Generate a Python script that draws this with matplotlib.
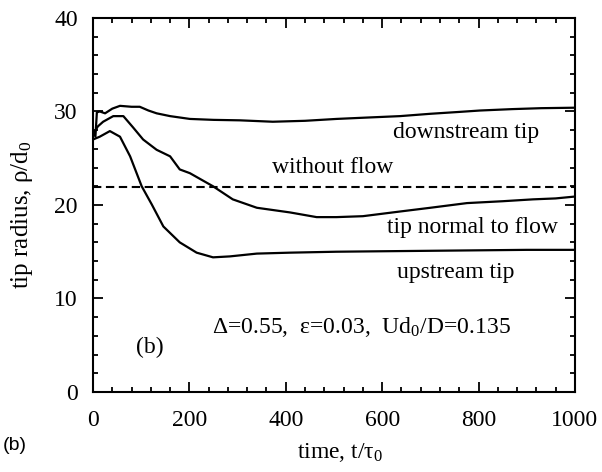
import matplotlib
matplotlib.use("Agg")
import matplotlib.pyplot as plt
from matplotlib.ticker import MultipleLocator

plt.rcParams["font.family"] = ["Liberation Serif", "DejaVu Serif"]
plt.rcParams["mathtext.fontset"] = "custom"
plt.rcParams["mathtext.rm"] = "Liberation Serif"
plt.rcParams["mathtext.it"] = "Liberation Serif:italic"

# downstream tip
t_down = [0, 5, 8, 14, 25, 40, 56, 80, 97, 115, 132, 160, 201, 250, 305, 373,
          440, 505, 570, 637, 700, 760, 803, 870, 930, 1000]
r_down = [28.0, 27.3, 29.9, 30.0, 29.8, 30.3, 30.6, 30.5, 30.5, 30.1, 29.8, 29.5,
          29.2, 29.1, 29.05, 28.9, 29.0, 29.2, 29.35, 29.5, 29.75, 29.95, 30.1,
          30.25, 30.35, 30.4]

# tip normal to flow
t_norm = [0, 10, 21, 42, 63, 83, 104, 132, 160, 180, 201, 249, 290, 340, 409,
          464, 505, 560, 637, 700, 776, 850, 913, 960, 1000]
r_norm = [27.5, 28.4, 28.9, 29.5, 29.5, 28.3, 27.0, 25.9, 25.2, 23.8, 23.4, 22.0,
          20.6, 19.7, 19.2, 18.7, 18.7, 18.8, 19.3, 19.7, 20.2, 20.4, 20.6, 20.7,
          20.9]

# upstream tip
t_up = [0, 14, 35, 56, 77, 101, 122, 146, 180, 215, 249, 284, 340, 409, 505,
        600, 700, 800, 900, 1000]
r_up = [27.0, 27.3, 27.9, 27.3, 25.2, 22.0, 20.05, 17.7, 16.0, 14.9, 14.4, 14.5,
        14.8, 14.9, 15.0, 15.05, 15.1, 15.15, 15.2, 15.2]

# without flow
t_still = [0, 1000]
r_still = [21.9, 21.9]

fig = plt.figure(figsize=(6.02, 4.72), dpi=100)
ax = fig.add_axes([0.1545, 0.1695, 0.8005, 0.7925])

ax.plot(t_down, r_down, color="black", lw=1.6)
ax.plot(t_norm, r_norm, color="black", lw=1.6)
ax.plot(t_up, r_up, color="black", lw=1.6)
ax.plot(t_still, r_still, color="black", lw=1.5, dashes=(4, 2.2))

ax.set_xlim(0, 1000)
ax.set_ylim(0, 40)
ax.xaxis.set_major_locator(MultipleLocator(200))
ax.xaxis.set_minor_locator(MultipleLocator(40))
ax.yaxis.set_major_locator(MultipleLocator(10))
ax.yaxis.set_minor_locator(MultipleLocator(2))
ax.tick_params(which="both", direction="in", top=True, right=True,
               labelsize=17, width=1.3)
ax.tick_params(axis="x", pad=13)
ax.tick_params(axis="y", pad=11)
ax.tick_params(which="major", length=7)
ax.tick_params(which="minor", length=3.6)
for s in ax.spines.values():
    s.set_linewidth(1.5)

ax.set_xlabel(r"time, t/$\mathrm{\tau_0}$", fontsize=17, va="center")
ax.xaxis.set_label_coords(0.512, -0.163)
ax.set_ylabel(r"tip radius, ρ/d$_\mathrm{0}$", fontsize=18, va="center")
ax.yaxis.set_label_coords(-0.147, 0.473)

fs = 17
ax.text(774, 27.7, "downstream tip", ha="center", va="center", fontsize=fs)
ax.text(498, 24.0, "without flow", ha="center", va="center", fontsize=fs)
ax.text(788, 17.6, "tip normal to flow", ha="center", va="center", fontsize=fs)
ax.text(753, 12.8, "upstream tip", ha="center", va="center", fontsize=fs)
ax.text(558, 7.0, r"Δ=0.55,  ε=0.03,  Ud$_\mathrm{0}$/D=0.135", ha="center",
        va="center", fontsize=fs)
ax.text(118, 4.8, "(b)", ha="center", va="center", fontsize=fs)

fig.text(0.004, 1 - 446 / 472, "(b)", ha="left", va="center", fontsize=14,
         family=["Liberation Sans", "DejaVu Sans"])

fig.savefig("out.png", dpi=100)
